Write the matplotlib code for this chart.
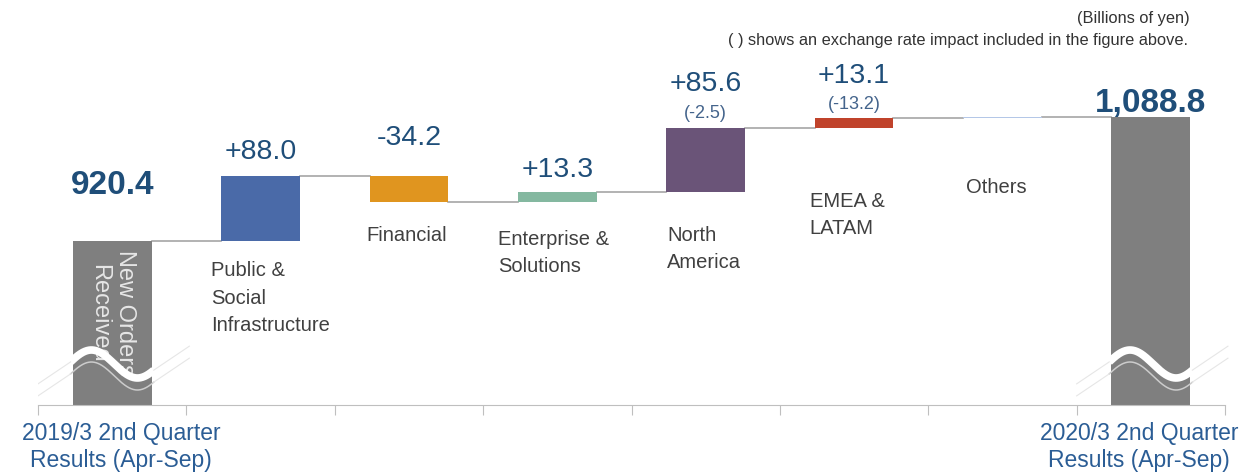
import matplotlib.pyplot as plt
import numpy as np

plt.rcParams['font.family'] = ['Liberation Sans', 'DejaVu Sans']

# new orders received, billions of yen
start_label = '2019/3 2nd Quarter\nResults (Apr-Sep)'
end_label = '2020/3 2nd Quarter\nResults (Apr-Sep)'
start_value = 920.4
end_value = 1088.8
start_value_text = '920.4'
end_value_text = '1,088.8'

segments = ['Public &\nSocial\nInfrastructure', 'Financial', 'Enterprise &\nSolutions',
            'North\nAmerica', 'EMEA &\nLATAM', 'Others']
changes = [88.0, -34.2, 13.3, 85.6, 13.1]
fx_impact = ['', '', '', '(-2.5)', '(-13.2)', '']
# "Others" is whatever is left between the two totals (not labelled)
changes.append(round(end_value - start_value - sum(changes), 1))
change_text = [f'{v:+.1f}' for v in changes[:5]] + ['']

seg_colors = ['#4a6aa8', '#e0951f', '#84b8a0', '#6a5478', '#c0432b', '#b4c7e7']
total_color = '#7f7f7f'
num_color = '#1f4e79'
cat_color = '#404040'

# layout (pixels)
value_dy = [24, 38, 22, 44, 42, 0]
fx_dy = [0, 0, 0, 15, 14, 0]
cat_dx = [-10, -3, -20, 1, -5, 3]
cat_dy = [-20, -24, -28, -34, -64, -60]

PX = 0.742          # pixels per billion yen
Y0 = 700            # axis is broken, starts here
W = 0.53

fig = plt.figure(figsize=(12.47, 4.72), dpi=100)
ax = fig.add_axes([38 / 1247, 67 / 472, 1187 / 1247, 405 / 472])
ax.set_xlim(-0.5, 7.5)
ax.set_ylim(Y0, Y0 + 405 / PX)

n = len(segments)
x_end = n + 1

# totals
ax.bar([0, x_end], [start_value, end_value], width=W, color=total_color, zorder=2)

# steps
levels = start_value + np.cumsum(changes)
prev = np.concatenate([[start_value], levels[:-1]])
bottoms = np.minimum(prev, levels)
heights = np.abs(changes)
xs = np.arange(1, n + 1)
ax.bar(xs, heights, bottom=bottoms, width=W, color=seg_colors, zorder=2)

# connectors
all_levels = np.concatenate([[start_value], levels])
for i, lv in enumerate(all_levels):
    ax.plot([i + W / 2, i + 1 - W / 2], [lv, lv], color='#a6a6a6', lw=1.2, zorder=1)

# value labels
for i in range(n):
    top = max(prev[i], levels[i])
    if change_text[i]:
        ax.annotate(change_text[i], (xs[i], top), xytext=(0, value_dy[i]),
                    textcoords='offset pixels', ha='center', va='center',
                    fontsize=20.5, color=num_color)
    if fx_impact[i]:
        ax.annotate(fx_impact[i], (xs[i], top), xytext=(0, fx_dy[i]),
                    textcoords='offset pixels', ha='center', va='center',
                    fontsize=13, color='#44648c')
    ax.annotate(segments[i], (xs[i] - W / 2, bottoms[i]), xytext=(cat_dx[i], cat_dy[i]),
                textcoords='offset pixels', ha='left', va='top',
                fontsize=14.5, color=cat_color, linespacing=1.55)

ax.annotate(start_value_text, (0, start_value), xytext=(0, 56), textcoords='offset pixels',
            ha='center', va='center', fontsize=24, fontweight='bold', color=num_color)
ax.annotate(end_value_text, (x_end, end_value), xytext=(0, 13), textcoords='offset pixels',
            ha='center', va='center', fontsize=24, fontweight='bold', color=num_color, zorder=3)

ax.annotate('New Orders\nReceived', (0, start_value), xytext=(0, -9), textcoords='offset pixels',
            rotation=-90, ha='center', va='top', fontsize=17, color='#e6e6e6',
            linespacing=1.2, zorder=3)

# period labels under the axis
ax.annotate(start_label, (0, Y0), xytext=(9, -17), textcoords='offset pixels',
            ha='center', va='top', fontsize=16.5, color='#2b5d95', linespacing=1.25,
            annotation_clip=False)
ax.annotate(end_label, (x_end, Y0), xytext=(-12, -17), textcoords='offset pixels',
            ha='center', va='top', fontsize=16.5, color='#2b5d95', linespacing=1.25,
            annotation_clip=False)


# wavy axis break over both total bars
def wave(u):
    return Y0 + (405 - (364 + 14 * np.sin(np.pi * (u - 0.015) / 0.31))) / PX


for c in [0, x_end]:
    u = np.linspace(-0.28, 0.28, 200)
    ax.plot(c + u, wave(u), color='white', lw=5.5, solid_capstyle='butt', zorder=4)
    ax.plot(c + u, wave(u) - 12 / PX, color='#cccccc', lw=1.1, zorder=4)
    for off in [0, 12]:
        yl = wave(-0.28) - off / PX
        ax.plot([c - 0.5, c - 0.28], [yl - 22 / PX, yl], color='#e6e6e6', lw=0.8, zorder=4)
        yr = wave(0.28) - off / PX
        ax.plot([c + 0.28, c + 0.52], [yr, yr + 24 / PX], color='#e6e6e6', lw=0.8, zorder=4,
                clip_on=False)

for s in ['top', 'left', 'right']:
    ax.spines[s].set_visible(False)
ax.spines['bottom'].set_color('#bfbfbf')
ax.set_yticks([])
ax.set_xticks(np.arange(-0.5, n + 2))
ax.set_xticklabels([])
ax.tick_params(axis='x', length=7, color='#bfbfbf', direction='out')

fig.text(1190 / 1247, 1 - 19 / 472, '(Billions of yen)', ha='right', va='center',
         fontsize=11.8, color='#333333')
fig.text(1188 / 1247, 1 - 41 / 472,
         '( ) shows an exchange rate impact included in the figure above.',
         ha='right', va='center', fontsize=11.8, color='#333333')

fig.savefig('out.png', dpi=100)
